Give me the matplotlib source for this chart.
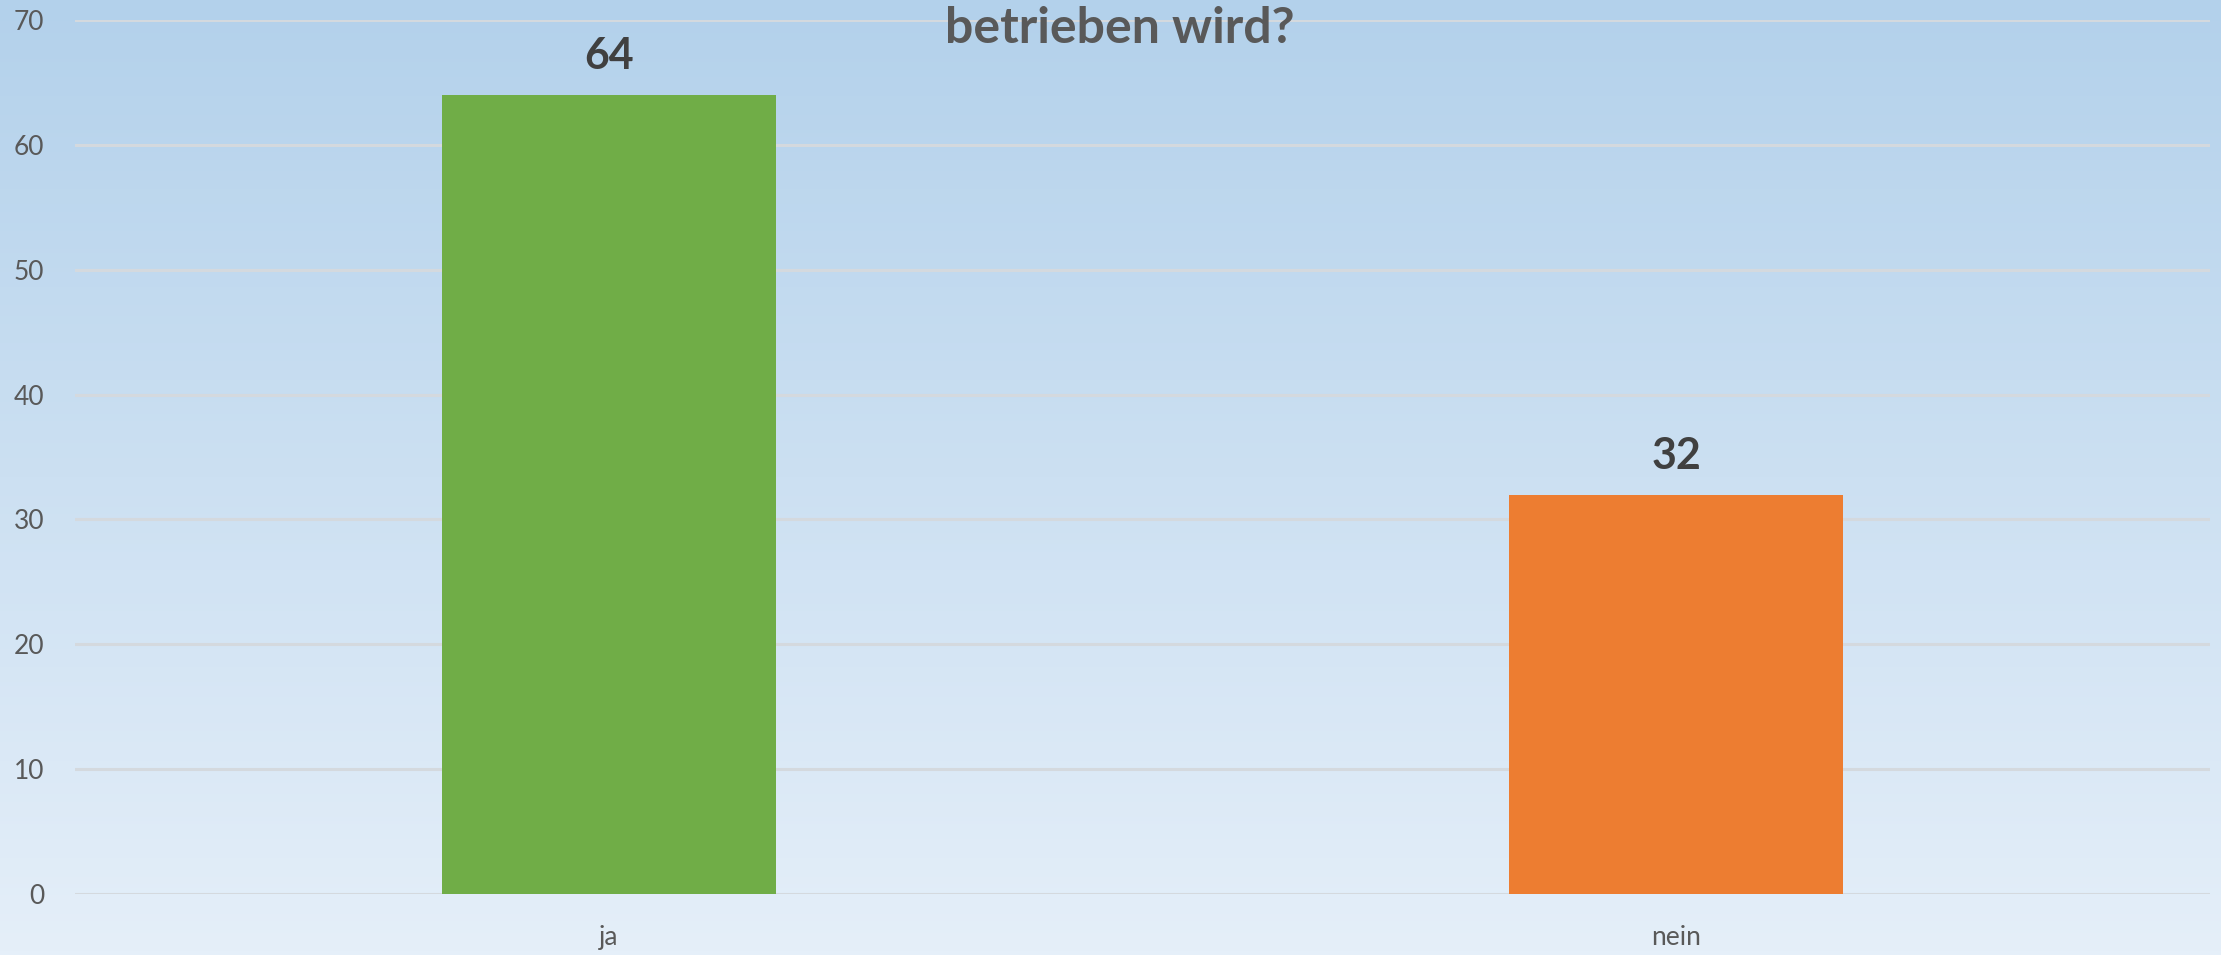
import matplotlib.pyplot as plt
import numpy as np

categories = ["ja", "nein"]
values = [64, 32]
bar_colors = ["#70ad47", "#ed7d31"]
yticks = [0, 10, 20, 30, 40, 50, 60, 70]
title_line = "betrieben wird?"

plt.rcParams['font.family'] = ['Lato', 'DejaVu Sans']

fig = plt.figure(figsize=(22.21, 9.55), dpi=100)

# gradient background over the whole figure
bg = fig.add_axes([0, 0, 1, 1], zorder=-10)
top = np.array([179, 209, 235]) / 255
bot = np.array([229, 239, 249]) / 255
t = np.linspace(0, 1, 256)[:, None]
grad = top[None, :] * (1 - t) + bot[None, :] * t
bg.imshow(grad[:, None, :], aspect="auto", extent=[0, 1, 0, 1])
bg.axis("off")

ax = fig.add_axes([0.0338, 0.0639, 0.9612, 0.915])
ax.patch.set_alpha(0)

x = np.arange(len(categories))
bars = ax.bar(x, values, width=0.313, color=bar_colors, zorder=3)

for xi, v in zip(x, values):
    ax.text(xi, v + 1.5, str(v), ha="center", va="bottom", fontsize=31,
            fontweight="bold", color="#404040")

ax.set_xlim(-0.5, 1.5)
ax.set_ylim(0, 70)
ax.set_yticks(yticks)
ax.set_xticks(x)
ax.set_xticklabels(categories)
ax.grid(axis="y", color="#d4d9de", linewidth=2.2, zorder=0)
ax.tick_params(axis="both", length=0, labelsize=19, colors="#595959")
ax.tick_params(axis="y", pad=22)
ax.tick_params(axis="x", pad=22)
for s in ax.spines.values():
    s.set_visible(False)

fig.text(0.504, 0.994, title_line, ha="center", va="top", fontsize=36,
         fontweight="bold", color="#595959")

fig.savefig("out.png", dpi=100)
